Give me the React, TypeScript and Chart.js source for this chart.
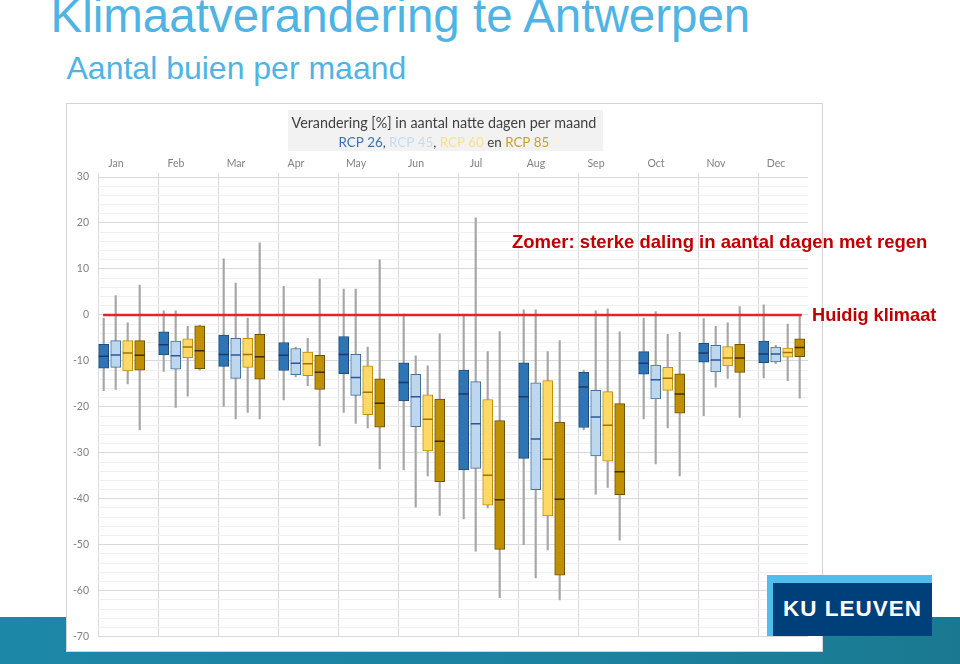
import React, { useEffect, useRef } from "react";
import { Chart, registerables } from "chart.js";

Chart.register(...registerables);

// ---- data -------------------------------------------------------------
const months = ["Jan", "Feb", "Mar", "Apr", "May", "Jun", "Jul", "Aug", "Sep", "Oct", "Nov", "Dec"];

// each month: [min, q1, median, q3, max]  (% change in wet days per month)
const rcp26 = [
  [-16.5, -11.6, -9.0, -6.4, -0.7],
  [-12.3, -8.7, -6.5, -3.7, 0.9],
  [-19.9, -11.2, -8.6, -4.4, 12.2],
  [-18.5, -12.1, -8.8, -6.0, 6.2],
  [-21.2, -12.8, -8.6, -4.7, 5.6],
  [-33.7, -18.7, -14.7, -10.4, 0.2],
  [-44.4, -33.7, -17.2, -12.0, -0.2],
  [-50.0, -31.2, -17.8, -10.4, 1.1],
  [-25.0, -24.5, -15.7, -12.5, -12.0],
  [-22.6, -12.9, -10.5, -8.0, -0.7],
  [-21.9, -10.3, -8.3, -6.2, -0.8],
  [-13.7, -10.4, -8.5, -5.7, 2.2],
];
const rcp45 = [
  [-16.2, -11.4, -8.7, -5.6, 4.2],
  [-20.1, -11.8, -8.9, -5.7, 0.9],
  [-22.6, -13.8, -8.7, -5.1, 6.9],
  [-13.5, -13.0, -10.5, -7.3, -7.0],
  [-23.6, -17.5, -13.6, -8.6, 5.6],
  [-41.8, -24.3, -17.8, -12.9, -8.9],
  [-51.4, -33.4, -23.7, -14.5, 21.1],
  [-57.2, -38.0, -27.0, -14.8, 1.1],
  [-39.0, -30.7, -22.2, -16.4, 0.9],
  [-32.4, -18.3, -14.1, -10.9, 0.7],
  [-15.7, -12.4, -9.8, -6.6, -2.5],
  [-10.6, -10.2, -8.5, -7.0, -6.6],
];
const rcp60 = [
  [-15.0, -12.2, -8.3, -5.6, -1.7],
  [-17.7, -9.3, -7.0, -5.2, -2.5],
  [-21.2, -11.4, -8.6, -5.1, -0.7],
  [-15.4, -13.2, -10.6, -8.1, -5.1],
  [-24.6, -21.7, -16.8, -11.1, -7.0],
  [-35.0, -29.6, -22.7, -17.4, -11.1],
  [-42.0, -41.4, -34.9, -18.4, -8.0],
  [-51.1, -43.7, -31.4, -14.3, -8.0],
  [-37.5, -31.8, -24.0, -16.7, 1.3],
  [-24.6, -16.4, -13.8, -11.4, -4.2],
  [-13.8, -11.1, -9.4, -6.9, -1.7],
  [-14.3, -9.2, -8.2, -7.2, -2.0],
];
const rcp85 = [
  [-25.0, -12.0, -8.8, -5.6, 6.5],
  [-12.0, -11.7, -7.8, -2.4, -2.2],
  [-22.6, -14.0, -9.1, -4.2, 15.7],
  [-28.5, -16.2, -12.5, -8.8, 7.8],
  [-33.5, -24.4, -19.2, -13.9, 12.0],
  [-43.6, -36.3, -27.5, -18.3, -4.1],
  [-61.5, -51.0, -40.2, -23.0, -3.6],
  [-62.0, -56.6, -40.1, -23.3, -5.6],
  [-49.0, -39.1, -34.1, -19.3, -3.7],
  [-35.0, -21.4, -17.2, -12.8, -3.8],
  [-22.3, -12.5, -9.4, -6.4, 1.8],
  [-18.1, -9.1, -7.1, -5.2, 0.0],
];
const seriesNames = ["RCP 26", "RCP 45", "RCP 60", "RCP 85"];
const currentClimate = 0;
const yMin = -70;
const yMax = 30;

// ---- styling ----------------------------------------------------------
const seriesData = [rcp26, rcp45, rcp60, rcp85];
const styles = [
  { fill: "#2e75b6", border: "#1f4e79", median: "#1f3864" },
  { fill: "#bdd7ee", border: "#41719c", median: "#2f5597" },
  { fill: "#ffd966", border: "#bf9000", median: "#9c7600" },
  { fill: "#bf9000", border: "#6b5200", median: "#3d2f00" },
];
const offsets = [0.095, 0.295, 0.495, 0.695];

const titleBoxPlugin = {
  id: "titleBox",
  afterDraw(chart: any) {
    const ctx = chart.ctx as CanvasRenderingContext2D;
    ctx.save();
    ctx.fillStyle = "#f2f2f2";
    ctx.fillRect(221, 6, 315, 41);
    ctx.textBaseline = "alphabetic";
    // line 1
    const l1 = "Verandering [%] in aantal natte dagen per maand";
    ctx.font = "15px Lato";
    let w = ctx.measureText(l1).width;
    const s1 = (15 * 305) / w;
    ctx.font = `${s1}px Lato`;
    ctx.fillStyle = "#404040";
    ctx.textAlign = "left";
    ctx.fillText(l1, 224.5, 23.5);
    // line 2
    const runs = [
      { t: seriesNames[0], c: "#3a72b0" },
      { t: ", ", c: "#404040" },
      { t: seriesNames[1], c: "#c4dcf0" },
      { t: ", ", c: "#404040" },
      { t: seriesNames[2], c: "#fbdf8e" },
      { t: " en ", c: "#404040" },
      { t: seriesNames[3], c: "#c9a227" },
    ];
    ctx.font = "15px Lato";
    w = runs.reduce((a, r) => a + ctx.measureText(r.t).width, 0);
    const s2 = (15 * 211) / w;
    ctx.font = `${s2}px Lato`;
    let x = 271.5;
    for (const r of runs) {
      ctx.fillStyle = r.c;
      ctx.fillText(r.t, x, 42.7);
      x += ctx.measureText(r.t).width;
    }
    ctx.restore();
  },
};

function BoxChart() {
  const ref = useRef<HTMLCanvasElement | null>(null);
  useEffect(() => {
    if (!ref.current) return;
    const datasets: any[] = [];
    // reference line (current climate)
    datasets.push({
      type: "line",
      data: [
        { x: 0.085, y: currentClimate },
        { x: 11.73, y: currentClimate },
      ],
      borderColor: "#e3232b",
      borderWidth: 2.5,
      pointRadius: 0,
      order: -1,
    });
    seriesData.forEach((s, k) => {
      const st = styles[k];
      datasets.push({
        type: "line",
        label: seriesNames[k] + " median",
        data: s.map((v, i) => ({ x: i + offsets[k], y: v[2] })),
        showLine: false,
        pointStyle: "line",
        pointRadius: 5,
        pointBorderWidth: 1.5,
        pointBorderColor: st.median,
        borderColor: st.median,
        order: 0,
      });
      datasets.push({
        type: "bar",
        label: seriesNames[k],
        data: s.map((v, i) => ({ x: i + offsets[k], y: [v[1], v[3]] })),
        backgroundColor: st.fill,
        borderColor: st.border,
        borderWidth: 1,
        borderSkipped: false,
        barThickness: 10,
        grouped: false,
        order: 1,
      });
      datasets.push({
        type: "bar",
        label: seriesNames[k] + " range",
        data: s.map((v, i) => ({ x: i + offsets[k], y: [v[0], v[4]] })),
        backgroundColor: "#a6a6a6",
        borderWidth: 0,
        barThickness: 1.5,
        grouped: false,
        order: 2,
      });
    });

    const tickFont = { family: "Lato", size: 10.5 };
    const chart = new Chart(ref.current, {
      type: "bar",
      data: { datasets },
      plugins: [titleBoxPlugin],
      options: {
        responsive: true,
        maintainAspectRatio: false,
        animation: false,
        events: [],
        layout: { padding: { left: 0, right: 14, top: 0, bottom: 15 } },
        plugins: { legend: { display: false }, tooltip: { enabled: false } },
        scales: {
          x: {
            type: "linear",
            position: "top",
            min: 0,
            max: 71 / 6,
            offset: false,
            afterBuildTicks: (s: any) => {
              s.ticks = months.map((_, i) => ({ value: i }));
            },
            afterFit: (s: any) => {
              s.height = 73;
            },
            ticks: {
              callback: (v: any) => months[v] ?? "",
              labelOffset: 18,
              padding: 3,
              color: "#808080",
              font: tickFont,
              autoSkip: false,
              maxRotation: 0,
            },
            grid: { color: "#d9d9d9", lineWidth: 1, tickLength: 4, drawTicks: true, offset: false },
            border: { display: false },
          },
          y: {
            type: "linear",
            min: yMin,
            max: yMax,
            afterBuildTicks: (s: any) => {
              const t = [];
              for (let v = yMin; v <= yMax; v += 2) t.push({ value: v });
              s.ticks = t;
            },
            afterFit: (s: any) => {
              s.width = 31;
            },
            ticks: {
              callback: (v: any) => (v % 10 === 0 ? String(v) : ""),
              autoSkip: false,
              padding: 9,
              color: "#808080",
              font: tickFont,
            },
            grid: {
              color: (c: any) => (c.tick && c.tick.value % 10 === 0 ? "#d9d9d9" : "#f0f0f0"),
              drawTicks: false,
            },
            border: { display: false },
          },
        },
      } as any,
    } as any);
    return () => chart.destroy();
  }, []);
  return (
    <div style={{ position: "absolute", left: 67, top: 104, width: 755, height: 548 }}>
      <canvas ref={ref} />
    </div>
  );
}

const arial = '"Liberation Sans", Arial, sans-serif';

export default function App() {
  return (
    <div
      style={{
        position: "fixed",
        left: 0,
        top: 0,
        width: 960,
        height: 664,
        background: "#ffffff",
        overflow: "hidden",
        fontFamily: arial,
      }}
    >
      <div
        style={{
          position: "absolute",
          left: 0,
          top: 617,
          width: 960,
          height: 47,
          background: "linear-gradient(90deg, #1d87a8 0%, #1b82a0 60%, #1a7990 100%)",
        }}
      />
      <div
        style={{
          position: "absolute",
          left: 66,
          top: 103,
          width: 757,
          height: 549,
          background: "#ffffff",
          border: "1px solid #d4d4d4",
          boxSizing: "border-box",
        }}
      />
      <BoxChart />
      <div
        style={{
          position: "absolute",
          left: 50.5,
          top: -8.2,
          fontSize: 47.5,
          lineHeight: 1,
          color: "#4fb4e4",
          whiteSpace: "nowrap",
        }}
      >
        Klimaatverandering te Antwerpen
      </div>
      <div
        style={{
          position: "absolute",
          left: 66.5,
          top: 51.9,
          fontSize: 32,
          lineHeight: 1,
          color: "#4fb4e4",
          whiteSpace: "nowrap",
        }}
      >
        Aantal buien per maand
      </div>
      <div
        style={{
          position: "absolute",
          left: 512,
          top: 232.6,
          fontSize: 18.5,
          lineHeight: 1,
          fontWeight: "bold",
          color: "#c00000",
          whiteSpace: "nowrap",
        }}
      >
        Zomer: sterke daling in aantal dagen met regen
      </div>
      <div
        style={{
          position: "absolute",
          left: 812,
          top: 306.3,
          fontSize: 18.2,
          lineHeight: 1,
          fontWeight: "bold",
          color: "#c00000",
          whiteSpace: "nowrap",
        }}
      >
        Huidig klimaat
      </div>
      <div style={{ position: "absolute", left: 767, top: 575, width: 165, height: 61, background: "#52bdec" }} />
      <div style={{ position: "absolute", left: 773, top: 583, width: 159, height: 53, background: "#00407a" }} />
      <div
        style={{
          position: "absolute",
          left: 783,
          top: 597.7,
          fontSize: 22.5,
          lineHeight: 1,
          fontWeight: "bold",
          letterSpacing: 1,
          color: "#ffffff",
          whiteSpace: "nowrap",
        }}
      >
        KU LEUVEN
      </div>
    </div>
  );
}
